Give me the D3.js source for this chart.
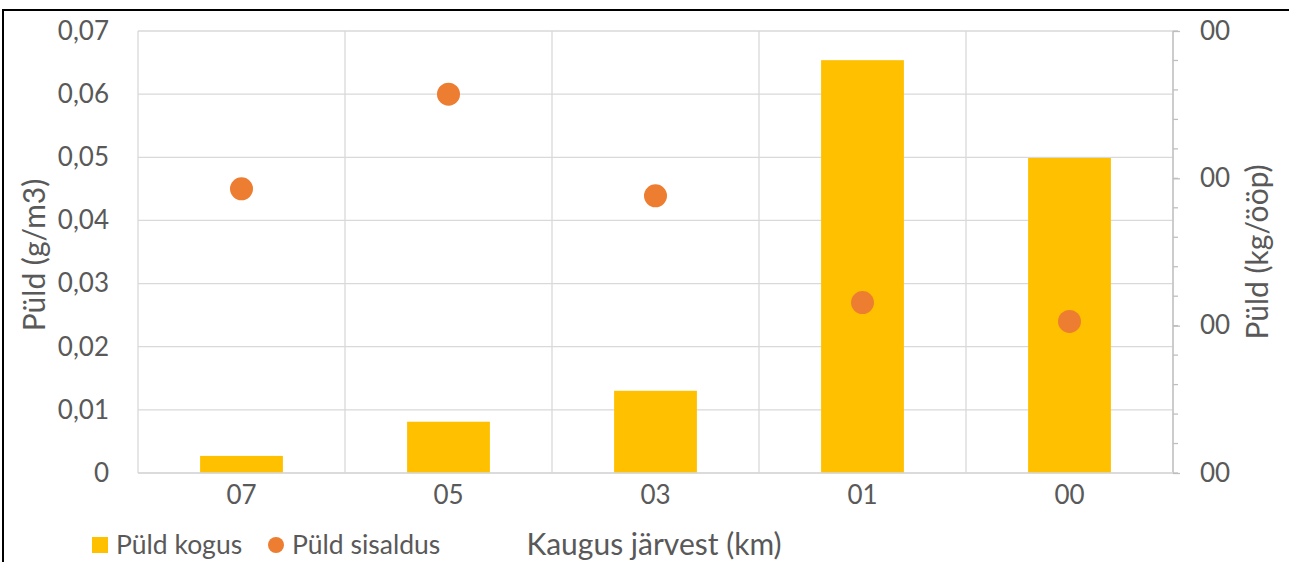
<!DOCTYPE html>
<html>
<head>
<meta charset="utf-8">
<script src="https://cdn.jsdelivr.net/npm/d3@7"></script>
<style>
  html, body { margin: 0; padding: 0; background: #fff; }
  svg { display: block; }
  text { font-family: Lato, "Open Sans", sans-serif; fill: #595959; }
</style>
</head>
<body>
<svg id="chart" width="1289" height="562"></svg>
<script>
// Distance from the lake (km) for each sampling point
const categories = ["07", "05", "03", "01", "00"];
// Dust amount (kg/ööp) — bars, right axis
const kogus = [0.058, 0.174, 0.279, 1.401, 1.069];
// Dust concentration (g/m3) — dots, left axis
const sisaldus = [0.045, 0.060, 0.0439, 0.027, 0.024];

const leftTicks = [0, 0.01, 0.02, 0.03, 0.04, 0.05, 0.06, 0.07];
const leftTickLabels = ["0", "0,01", "0,02", "0,03", "0,04", "0,05", "0,06", "0,07"];
const rightTicks = [0, 0.5, 1.0, 1.5];
const rightTickLabels = ["00", "00", "00", "00"];
const rightMinorTicks = d3.range(0, 1.5001, 0.1);

const seriesNames = ["Püld kogus", "Püld sisaldus"];
const xTitle = "Kaugus järvest (km)";
const yLeftTitle = "Püld (g/m3)";
const yRightTitle = "Püld (kg/ööp)";

const colBar = "#FFC000";
const colDot = "#ED7D31";
const gridCol = "#d9d9d9";
const fsTick = 26;
const fsLegend = 26.5;
const fsTitle = 30;

const svg = d3.select("#chart");
const plot = { left: 138, right: 1173, top: 31, bottom: 473 };

// outer frame
svg.append("rect")
  .attr("x", 3).attr("y", 10).attr("width", 1400).attr("height", 700)
  .attr("fill", "#fff").attr("stroke", "#000").attr("stroke-width", 2);

const x = d3.scaleBand().domain(categories)
  .range([plot.left, plot.right]).paddingInner(0.6).paddingOuter(0.3);
const yL = d3.scaleLinear().domain([0, 0.07]).range([plot.bottom, plot.top]);
const yR = d3.scaleLinear().domain([0, 1.5]).range([plot.bottom, plot.top]);

// horizontal gridlines
svg.append("g").selectAll("line").data(leftTicks).join("line")
  .attr("x1", plot.left).attr("x2", plot.right)
  .attr("y1", d => yL(d)).attr("y2", d => yL(d))
  .attr("stroke", gridCol).attr("stroke-width", 1.3);

// vertical gridlines at category boundaries
const step = x.step();
const bounds = d3.range(categories.length + 1).map(i => plot.left + i * step);
svg.append("g").selectAll("line").data(bounds).join("line")
  .attr("x1", d => d).attr("x2", d => d)
  .attr("y1", plot.top).attr("y2", plot.bottom)
  .attr("stroke", gridCol).attr("stroke-width", 1.3);

// bars
svg.append("g").selectAll("rect").data(categories).join("rect")
  .attr("x", d => x(d)).attr("width", x.bandwidth())
  .attr("y", (d, i) => yR(kogus[i]))
  .attr("height", (d, i) => yR(0) - yR(kogus[i]))
  .attr("fill", colBar);

// dots
svg.append("g").selectAll("circle").data(categories).join("circle")
  .attr("cx", d => x(d) + x.bandwidth() / 2)
  .attr("cy", (d, i) => yL(sisaldus[i]))
  .attr("r", 11.5).attr("fill", colDot);

// left axis labels
const leftAxis = d3.axisLeft(yL).tickValues(leftTicks)
  .tickFormat((d, i) => leftTickLabels[i]).tickSize(0).tickPadding(0);
const gl = svg.append("g").attr("transform", `translate(${109},0)`).call(leftAxis);
gl.select(".domain").remove();
gl.selectAll("text").style("font-size", fsTick + "px").style("font-family", "Lato").attr("fill", "#595959");

// right axis
const rightAxis = d3.axisRight(yR).tickValues(rightTicks)
  .tickFormat((d, i) => rightTickLabels[i]).tickSize(7).tickPadding(20);
const gr = svg.append("g").attr("transform", `translate(${plot.right},0)`).call(rightAxis);
gr.select(".domain").attr("stroke", "#bfbfbf").attr("stroke-width", 1.3).attr("d", `M0,${plot.top}V${plot.bottom}`);
gr.selectAll(".tick line").attr("stroke", "#bfbfbf").attr("stroke-width", 1.3);
gr.selectAll("text").style("font-size", fsTick + "px").style("font-family", "Lato").attr("fill", "#595959");
svg.append("g").selectAll("line").data(rightMinorTicks).join("line")
  .attr("x1", plot.right).attr("x2", plot.right + 5)
  .attr("y1", d => yR(d)).attr("y2", d => yR(d))
  .attr("stroke", "#bfbfbf").attr("stroke-width", 1.3);

// x axis baseline and labels
svg.append("line").attr("x1", plot.left).attr("x2", plot.right)
  .attr("y1", plot.bottom).attr("y2", plot.bottom)
  .attr("stroke", gridCol).attr("stroke-width", 1.3);
const xAxis = d3.axisBottom(x).tickSize(0).tickPadding(13);
const gx = svg.append("g").attr("transform", `translate(0,${plot.bottom})`).call(xAxis);
gx.select(".domain").remove();
gx.selectAll("text").style("font-size", fsTick + "px").style("font-family", "Lato").attr("fill", "#595959");

// axis titles
svg.append("text").attr("x", 654).attr("y", 555).attr("text-anchor", "middle")
  .style("font-size", fsTitle + "px").text(xTitle);
svg.append("text").attr("transform", "translate(45,255) rotate(-90)")
  .attr("text-anchor", "middle").style("font-size", fsTitle + "px").text(yLeftTitle);
svg.append("text").attr("transform", "translate(1268,252) rotate(-90)")
  .attr("text-anchor", "middle").style("font-size", fsTitle + "px").text(yRightTitle);

// legend
const lg = svg.append("g");
lg.append("rect").attr("x", 92).attr("y", 537).attr("width", 16).attr("height", 16).attr("fill", colBar);
lg.append("text").attr("x", 116).attr("y", 554).style("font-size", fsLegend + "px").text(seriesNames[0]);
lg.append("circle").attr("cx", 276).attr("cy", 545).attr("r", 8).attr("fill", colDot);
lg.append("text").attr("x", 292).attr("y", 554).style("font-size", fsLegend + "px").text(seriesNames[1]);
</script>
</body>
</html>
